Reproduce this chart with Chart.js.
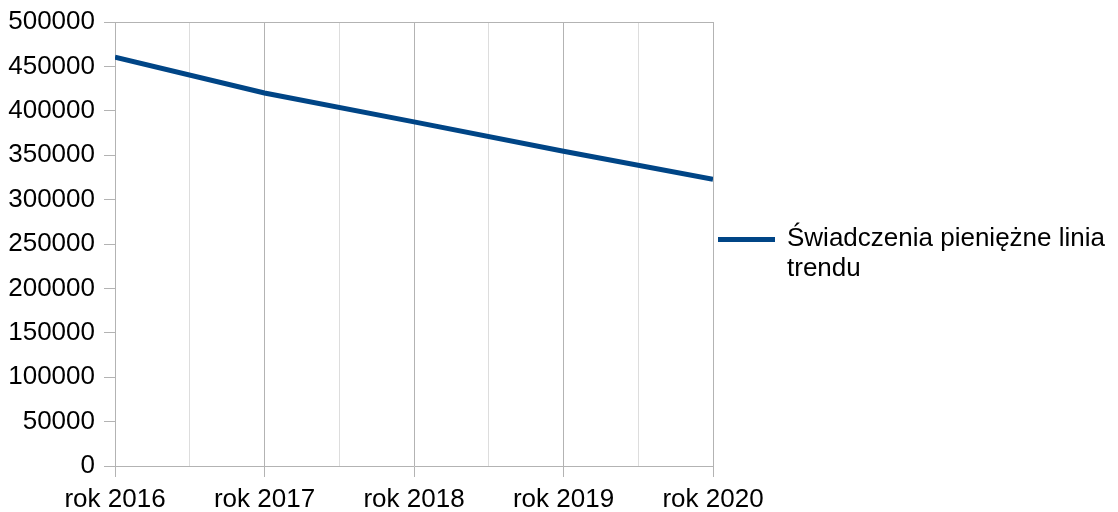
<!DOCTYPE html>
<html>
<head>
<meta charset="utf-8">
<script src="https://cdn.jsdelivr.net/npm/chart.js@4"></script>
<style>
  body { margin: 0; background: #fff; }
  #wrap { position: relative; width: 1118px; height: 512px; }
  #legend { position: absolute; left: 718px; top: 222px; font-family: "Liberation Sans", Arial, sans-serif; font-size: 26px; line-height: 30px; color: #000; }
  #legend .swatch { position: absolute; left: 0; top: 15px; width: 57px; height: 5px; background: #004586; }
  #legend .text { margin-left: 69px; width: 340px; }
</style>
</head>
<body>
<div id="wrap">
  <canvas id="myChart" width="1118" height="512"></canvas>
  <div id="legend"><div class="swatch"></div><div class="text" id="legendText"></div></div>
</div>
<script>
  const categories = ['rok 2016', 'rok 2017', 'rok 2018', 'rok 2019', 'rok 2020'];
  const values = [460500, 420000, 387500, 354500, 323000];
  const seriesName = 'Świadczenia pieniężne linia trendu';

  document.getElementById('legendText').textContent = seriesName;

  const ctx = document.getElementById('myChart').getContext('2d');
  Chart.defaults.font.family = '"Liberation Sans", Arial, sans-serif';
  Chart.defaults.color = '#000';

  const myChart = new Chart(ctx, {
    type: 'line',
    data: {
      datasets: [{
        label: seriesName,
        data: values.map((v, i) => ({ x: i, y: v })),
        borderColor: '#004586',
        borderWidth: 5,
        pointRadius: 0,
        tension: 0
      }]
    },
    options: {
      responsive: false,
      animation: false,
      layout: { padding: { left: 0, right: 405, top: 22, bottom: 0 } },
      plugins: { legend: { display: false }, tooltip: { enabled: false } },
      scales: {
        x: {
          type: 'linear',
          min: 0,
          max: categories.length - 1,
          afterBuildTicks: (scale) => {
            const t = [];
            for (let v = 0; v <= categories.length - 1; v += 0.5) t.push({ value: v });
            scale.ticks = t;
          },
          afterFit: (scale) => { scale.height = 46; },
          border: { color: '#b3b3b3', width: 1 },
          grid: {
            color: (c) => Number.isInteger(c.tick.value) ? '#b3b3b3' : '#dddddd',
            tickColor: (c) => Number.isInteger(c.tick.value) ? '#b3b3b3' : 'rgba(0,0,0,0)',
            tickLength: 11
          },
          ticks: {
            autoSkip: false,
            maxRotation: 0,
            padding: 7,
            font: { size: 26 },
            callback: (v) => Number.isInteger(v) ? categories[v] : ''
          }
        },
        y: {
          min: 0,
          max: 500000,
          afterFit: (scale) => { scale.width = 115; },
          border: { color: '#b3b3b3', width: 1 },
          grid: {
            color: (c) => c.tick.value === 500000 ? '#b3b3b3' : 'rgba(0,0,0,0)',
            tickColor: '#b3b3b3',
            tickLength: 11
          },
          ticks: {
            stepSize: 50000,
            padding: 9,
            font: { size: 26, lineHeight: 1 },
            callback: (v) => String(v)
          }
        }
      }
    }
  });
</script>
</body>
</html>
